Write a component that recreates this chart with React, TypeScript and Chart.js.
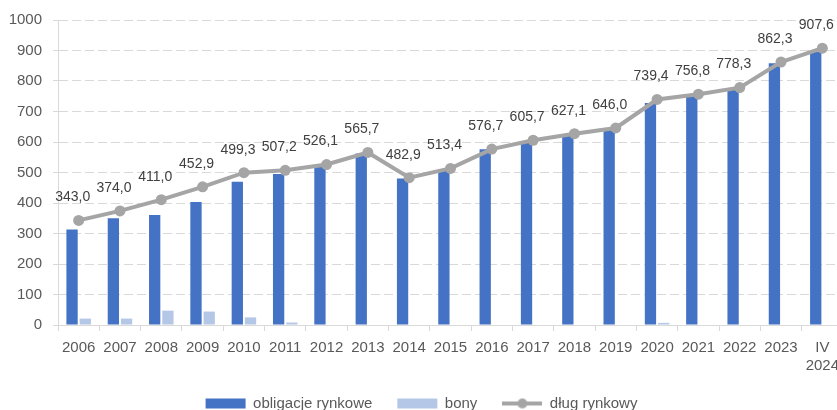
import React, { useEffect, useRef } from "react";
import { Chart, registerables } from "chart.js";

Chart.register(...registerables);

const categories: (string | string[])[] = [
  "2006", "2007", "2008", "2009", "2010", "2011", "2012", "2013", "2014", "2015",
  "2016", "2017", "2018", "2019", "2020", "2021", "2022", "2023", ["IV", "2024"],
];

const marketBonds = [313, 350, 361, 403, 470, 495, 521, 562, 480, 510, 576, 603, 622, 640, 728, 752, 772, 858, 895];
const bills = [21, 21, 47, 44, 25, 8, 0, 0, 0, 0, 0, 0, 0, 0, 7, 0, 0, 0, 0];
const marketDebt = [343.0, 374.0, 411.0, 452.9, 499.3, 507.2, 526.1, 565.7, 482.9, 513.4, 576.7, 605.7, 627.1, 646.0, 739.4, 756.8, 778.3, 862.3, 907.6];

const seriesNames = ["obligacje rynkowe", "bony", "dług rynkowy"];
const yMin = 0;
const yMax = 1000;
const yStep = 100;

const FONT = '"Liberation Sans", Arial, sans-serif';
const C_BONDS = "#4472C4";
const C_BILLS = "#B4C7E7";
const C_DEBT = "#A5A5A5";
const C_TEXT = "#595959";
const C_GRID = "#D9D9D9";

function makeLineIcon(): HTMLCanvasElement {
  const c = document.createElement("canvas");
  c.width = 40;
  c.height = 12;
  const g = c.getContext("2d")!;
  g.strokeStyle = C_DEBT;
  g.lineWidth = 4;
  g.beginPath();
  g.moveTo(0, 6);
  g.lineTo(40, 6);
  g.stroke();
  g.fillStyle = C_DEBT;
  g.beginPath();
  g.arc(20, 6, 5, 0, Math.PI * 2);
  g.fill();
  return c;
}

const labelPlugin = {
  id: "debtLabels",
  afterDatasetsDraw(chart: any) {
    const meta = chart.getDatasetMeta(2);
    const ctx = chart.ctx;
    ctx.save();
    ctx.font = `14px ${FONT}`;
    ctx.fillStyle = "#404040";
    ctx.textAlign = "center";
    ctx.textBaseline = "middle";
    meta.data.forEach((pt: any, i: number) => {
      const v = marketDebt[i];
      ctx.fillText(v.toFixed(1).replace(".", ","), pt.x - 6, pt.y - 23);
    });
    ctx.restore();
  },
};

export default function App() {
  const ref = useRef<HTMLCanvasElement | null>(null);

  useEffect(() => {
    if (!ref.current) return;
    const lineIcon = makeLineIcon();
    const chart = new Chart(ref.current, {
      type: "bar",
      data: {
        labels: categories,
        datasets: [
          {
            type: "bar",
            label: seriesNames[0],
            data: marketBonds,
            backgroundColor: C_BONDS,
            borderWidth: 0,
            categoryPercentage: 0.64,
            barPercentage: 0.855,
            order: 1,
          },
          {
            type: "bar",
            label: seriesNames[1],
            data: bills,
            backgroundColor: C_BILLS,
            borderWidth: 0,
            categoryPercentage: 0.64,
            barPercentage: 0.855,
            order: 1,
          },
          {
            type: "line",
            label: seriesNames[2],
            data: marketDebt,
            borderColor: C_DEBT,
            backgroundColor: C_DEBT,
            borderWidth: 4,
            pointRadius: 5.5,
            pointBackgroundColor: C_DEBT,
            pointBorderColor: C_DEBT,
            pointBorderWidth: 0,
            tension: 0,
            order: 0,
          } as any,
        ],
      },
      options: {
        animation: false,
        responsive: false,
        devicePixelRatio: 1,
        layout: { padding: { top: 16, right: 17, bottom: 0, left: 0 } },
        plugins: {
          tooltip: { enabled: false },
          legend: {
            position: "bottom",
            labels: {
              usePointStyle: true,
              pointStyleWidth: 40,
              boxHeight: 10,
              padding: 25,
              color: C_TEXT,
              font: { family: FONT, size: 15 },
              sort: (a: any, b: any) => a.datasetIndex - b.datasetIndex,
              generateLabels: (ch: any) => {
                const items = (Chart.defaults.plugins.legend.labels as any).generateLabels(ch);
                return items.map((it: any) =>
                  it.datasetIndex === 2
                    ? { ...it, pointStyle: lineIcon, lineWidth: 0 }
                    : { ...it, pointStyle: "rect", lineWidth: 0, strokeStyle: "rgba(0,0,0,0)" }
                );
              },
            },
          },
        },
        scales: {
          x: {
            offset: true,
            grid: {
              display: true,
              drawOnChartArea: false,
              drawTicks: true,
              tickLength: 6,
              color: C_GRID,
              offset: true,
            },
            border: { display: true, color: C_GRID, width: 1 },
            ticks: {
              color: C_TEXT,
              font: { family: FONT, size: 15 },
              padding: 8,
              maxRotation: 0,
              autoSkip: false,
            },
            afterFit: (s: any) => {
              s.height = 46;
            },
          },
          y: {
            min: yMin,
            max: yMax,
            grid: {
              color: C_GRID,
              lineWidth: 1,
              tickLength: 5,
              drawTicks: true,
            },
            border: { display: true, color: C_GRID, width: 1, dash: [9, 4] },
            ticks: {
              stepSize: yStep,
              color: C_TEXT,
              font: { family: FONT, size: 15 },
              padding: 11,
              callback: (v: any) => String(v),
            },
            afterFit: (s: any) => {
              s.width = 58;
            },
          },
        },
      },
      plugins: [labelPlugin],
    });
    return () => chart.destroy();
  }, []);

  return (
    <div style={{ position: "absolute", left: 0, top: 0, width: 837, height: 410, overflow: "hidden", background: "#fff" }}>
      <canvas ref={ref} width={860} height={421} style={{ display: "block" }} />
    </div>
  );
}
